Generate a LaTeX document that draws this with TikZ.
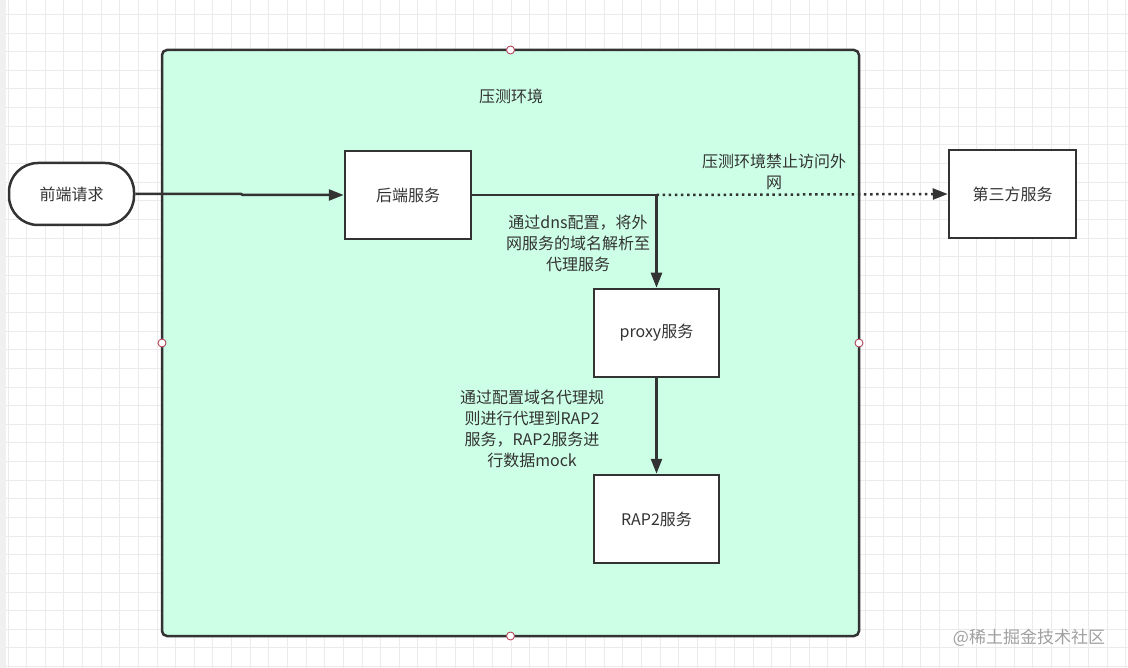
\documentclass[tikz,border=0pt]{standalone}
\usepackage{fontspec}
\setmainfont{Noto Sans CJK SC}
\usetikzlibrary{arrows.meta}
\definecolor{ink}{HTML}{333333}
\definecolor{mint}{HTML}{CCFFE6}
\definecolor{gridc}{HTML}{EBEBEB}
\definecolor{handlec}{HTML}{B4465A}
\definecolor{wm}{HTML}{A0A0A0}
\tikzset{
  box/.style={draw=ink, line width=2.5pt, fill=white, minimum width=126pt, minimum height=88pt, inner sep=0pt, text=ink},
  lbl/.style={text=ink, align=center, inner sep=0pt},
  conn/.style={draw=ink, line width=2.5pt, -{Triangle[length=15pt,width=11pt]}},
  dotconn/.style={draw=ink, line width=2.5pt, dash pattern=on 2.5pt off 3.6pt, -{Triangle[length=15pt,width=11pt]}},
  handle/.style={circle, draw=handlec, fill=white, line width=0.9pt, minimum size=8pt, inner sep=0pt},
}
\begin{document}
\begin{tikzpicture}[x=1pt,y=-1pt, font=\fontsize{16}{21}\selectfont]
\useasboundingbox (0,0) rectangle (1128,668);
\fill[white] (0,0) rectangle (1128,668);
% grid
\foreach \i in {0,...,60} {
  \draw[gridc, line width=0.9pt] ({8+18.63*\i},0) -- ({8+18.63*\i},668);
}
\foreach \j in {0,...,36} {
  \draw[gridc, line width=0.9pt] (0,{-4.2+18.63*\j}) -- (1128,{-4.2+18.63*\j});
}
\fill[gray!12] (0,0) rectangle (6,668);
% environment box
\draw[ink, fill=mint, line width=2.5pt, rounded corners=5pt] (162,50) rectangle (859,636);
\node[lbl] (envt) at (511,96) {压测环境};
% nodes
\node[draw=ink, line width=2.5pt, fill=white, rounded corners=29pt, minimum width=125pt, minimum height=62pt, inner sep=0pt, text=ink] (fe) at (71.5,194) {前端请求};
\node[box] (be) at (408,195) {后端服务};
\node[box, minimum width=127pt] (tp) at (1012.5,194) {第三方服务};
\node[box, minimum width=125pt] (px) at (656.5,333) {proxy服务};
\node[box, minimum width=125pt] (rap) at (656.5,519) {RAP2服务};
% connectors
\coordinate (jog) at (241,0);
\draw[conn] (fe.east) -- (jog |- fe.east) -- ([xshift=2pt]jog |- be.west) -- (be.west);
\draw[conn] (be.east) -| (px.north);
\coordinate (split) at (656.5,195);
\draw[dotconn] (split) -- (tp.west);
\draw[conn] (px.south) -- (rap.north);
% labels
\node[lbl] (l1) at (774,171.5) {压测环境禁止访问外\\网};
\node[lbl] (l2) at (578,243) {通过dns配置，将外\\网服务的域名解析至\\代理服务};
\node[lbl] (l3) at (532,428.5) {通过配置域名代理规\\则进行代理到RAP2\\服务，RAP2服务进\\行数据mock};
% selection handles
\node[handle] (h1) at (510.5,50) {};
\node[handle] (h2) at (162,343) {};
\node[handle] (h3) at (859,343) {};
\node[handle] (h4) at (510.5,636) {};
% watermark
\node[text=wm, inner sep=0pt, font=\fontsize{17}{20}\selectfont] (wmk) at (1029,638) {@稀土掘金技术社区};
\end{tikzpicture}
\end{document}
